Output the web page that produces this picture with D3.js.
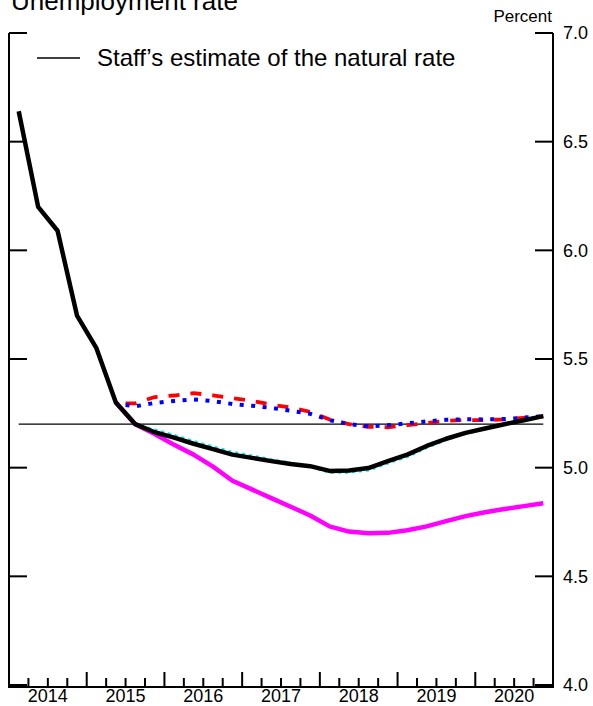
<!DOCTYPE html>
<html>
<head>
<meta charset="utf-8">
<script src="https://cdn.jsdelivr.net/npm/d3@7"></script>
<style>
  html, body { margin: 0; padding: 0; background: #fff; }
  svg { display: block; }
  text { font-family: "Liberation Sans", Arial, sans-serif; fill: #000; }
</style>
</head>
<body>
<div id="chart"></div>
<script>
// ---------- data ----------
const title = "Unemployment rate";
const legendLabel = "Staff\u2019s estimate of the natural rate";
const unitLabel = "Percent";

const yTicks = [4.0, 4.5, 5.0, 5.5, 6.0, 6.5, 7.0];
const yearLabels = [2014, 2015, 2016, 2017, 2018, 2019, 2020];

// quarterly labels for the main (black) line
const blackQuarters = [
  "2014Q1","2014Q2","2014Q3","2014Q4",
  "2015Q1","2015Q2","2015Q3","2015Q4",
  "2016Q1","2016Q2","2016Q3","2016Q4",
  "2017Q1","2017Q2","2017Q3","2017Q4",
  "2018Q1","2018Q2","2018Q3","2018Q4",
  "2019Q1","2019Q2","2019Q3","2019Q4",
  "2020Q1","2020Q2","2020Q3","2020Q4"
];
const blackValues = [
  6.64, 6.20, 6.09, 5.70,
  5.55, 5.30, 5.20, 5.163,
  5.138, 5.11, 5.085, 5.06,
  5.045, 5.03, 5.017, 5.007,
  4.985, 4.987, 4.998, 5.03,
  5.06, 5.10, 5.133, 5.16,
  5.18, 5.20, 5.218, 5.237
];

// alternative scenarios from 2015Q2
const altQuarters = [
  "2015Q2","2015Q3","2015Q4",
  "2016Q1","2016Q2","2016Q3","2016Q4",
  "2017Q1","2017Q2","2017Q3","2017Q4",
  "2018Q1","2018Q2","2018Q3","2018Q4",
  "2019Q1","2019Q2","2019Q3","2019Q4",
  "2020Q1","2020Q2","2020Q3","2020Q4"
];
const magentaValues = [
  5.30, 5.20, 5.155,
  5.105, 5.06, 5.005, 4.94,
  4.90, 4.86, 4.82, 4.78,
  4.73, 4.706, 4.698, 4.70,
  4.712, 4.73, 4.754, 4.777,
  4.795, 4.81, 4.823, 4.836
];
const cyanValues = [
  5.30, 5.20, 5.175,
  5.15, 5.122, 5.097, 5.072,
  5.055, 5.038, 5.022, 5.005,
  4.978, 4.978, 4.988, 5.02,
  5.05, 5.092, 5.127, 5.156,
  5.178, 5.199, 5.218, 5.237
];

// dashed / dotted series (decimal-year dates)
const rbDates = [
  2015.5, 2015.625, 2015.875,
  2016.125, 2016.375, 2016.625, 2016.875,
  2017.125, 2017.375, 2017.625, 2017.875,
  2018.125, 2018.375, 2018.625, 2018.875,
  2019.125, 2019.375, 2019.625, 2019.875,
  2020.125, 2020.375, 2020.625, 2020.875
];
const redValues = [
  5.296, 5.296, 5.325,
  5.332, 5.343, 5.333, 5.32,
  5.308, 5.29, 5.277, 5.257,
  5.222, 5.20, 5.188, 5.186,
  5.196, 5.205, 5.216, 5.219,
  5.219, 5.222, 5.229, 5.236
];
const blueValues = [
  5.288, 5.282, 5.298,
  5.307, 5.314, 5.306, 5.293,
  5.285, 5.275, 5.262, 5.248,
  5.219, 5.20, 5.19, 5.195,
  5.204, 5.213, 5.22, 5.223,
  5.222, 5.224, 5.23, 5.237
];

const naturalRateQuarters = ["2014Q1", "2020Q4"];
const naturalRateValues = [5.2, 5.2];

// ---------- helpers ----------
function qMid(label) {
  const yr = +label.slice(0, 4), q = +label.slice(5);
  return yr + (q - 1) * 0.25 + 0.125;
}

// ---------- layout ----------
const W = 593, H = 706;
const plotLeft = 9, plotRight = 553, plotTop = 33, plotBottom = 685;

const svg = d3.select("#chart").append("svg")
  .attr("width", W).attr("height", H);

const x = d3.scaleLinear().domain([2014, 2021]).range([plotLeft, plotRight]);
const y = d3.scaleLinear().domain([4, 7]).range([plotBottom, plotTop]);

// title (partly cut off at the top as in the reference)
svg.append("text").attr("x", 11).attr("y", 10)
  .style("font-size", "26px").text(title);

// unit label
svg.append("text").attr("x", 552).attr("y", 22)
  .attr("text-anchor", "end").style("font-size", "17px").text(unitLabel);

// frame: left & right vertical axes
svg.append("line").attr("x1", plotLeft).attr("x2", plotLeft)
  .attr("y1", plotTop).attr("y2", plotBottom + 3)
  .attr("stroke", "#000").attr("stroke-width", 2);
svg.append("line").attr("x1", plotRight).attr("x2", plotRight)
  .attr("y1", plotTop).attr("y2", plotBottom + 3)
  .attr("stroke", "#000").attr("stroke-width", 2);

// y ticks (both sides, inward)
const yt = svg.append("g");
yTicks.forEach(v => {
  yt.append("line").attr("x1", plotLeft).attr("x2", plotLeft + 18)
    .attr("y1", y(v)).attr("y2", y(v))
    .attr("stroke", "#000").attr("stroke-width", 2);
  yt.append("line").attr("x1", plotRight - 18).attr("x2", plotRight)
    .attr("y1", y(v)).attr("y2", y(v))
    .attr("stroke", "#000").attr("stroke-width", 2);
  yt.append("text").attr("x", 563).attr("y", y(v))
    .attr("dy", "0.35em").style("font-size", "18px")
    .text(d3.format(".1f")(v));
});

// x axis
const axisY = plotBottom + 2;
svg.append("line").attr("x1", plotLeft - 1).attr("x2", plotRight + 1)
  .attr("y1", axisY).attr("y2", axisY)
  .attr("stroke", "#000").attr("stroke-width", 2);
const qTicks = d3.range(2014.25, 2021, 0.25);
svg.append("g").selectAll("line").data(qTicks).join("line")
  .attr("x1", d => x(d)).attr("x2", d => x(d))
  .attr("y1", axisY)
  .attr("y2", d => Math.abs(d - Math.round(d)) < 1e-6 ? axisY - 15 : axisY - 9)
  .attr("stroke", "#000").attr("stroke-width", 2);
svg.append("g").selectAll("text").data(yearLabels).join("text")
  .attr("x", d => x(d + 0.5)).attr("y", 702)
  .attr("text-anchor", "middle").style("font-size", "18px")
  .text(d => d);

// ---------- lines ----------
const line = d3.line().x(d => x(d[0])).y(d => y(d[1]));

const natData = naturalRateQuarters.map((q, i) => [qMid(q), naturalRateValues[i]]);
const blackData = blackQuarters.map((q, i) => [qMid(q), blackValues[i]]);
const magData = altQuarters.map((q, i) => [qMid(q), magentaValues[i]]);
const cyanData = altQuarters.map((q, i) => [qMid(q), cyanValues[i]]);
const redData = rbDates.map((d, i) => [d, redValues[i]]);
const blueData = rbDates.map((d, i) => [d, blueValues[i]]);

svg.append("path").datum(natData).attr("d", line)
  .attr("fill", "none").attr("stroke", "#000").attr("stroke-width", 1.3);

svg.append("path").datum(redData).attr("d", line)
  .attr("fill", "none").attr("stroke", "#ff0000").attr("stroke-width", 3.8)
  .attr("stroke-dasharray", "11,11");

svg.append("path").datum(blueData).attr("d", line)
  .attr("fill", "none").attr("stroke", "#0000ff").attr("stroke-width", 4)
  .attr("stroke-dasharray", "4,7.5");

svg.append("path").datum(magData).attr("d", line)
  .attr("fill", "none").attr("stroke", "#ff00ff").attr("stroke-width", 4.5)
  .attr("stroke-linejoin", "round");

svg.append("path").datum(cyanData).attr("d", line)
  .attr("fill", "none").attr("stroke", "#00e5e5").attr("stroke-width", 2.5)
  .attr("stroke-dasharray", "3,4");

svg.append("path").datum(blackData).attr("d", line)
  .attr("fill", "none").attr("stroke", "#000").attr("stroke-width", 4.5)
  .attr("stroke-linejoin", "round");

// ---------- legend ----------
svg.append("line").attr("x1", 37).attr("x2", 80).attr("y1", 58).attr("y2", 58)
  .attr("stroke", "#000").attr("stroke-width", 1.3);
svg.append("text").attr("x", 97).attr("y", 66)
  .style("font-size", "24px").text(legendLabel);
</script>
</body>
</html>
